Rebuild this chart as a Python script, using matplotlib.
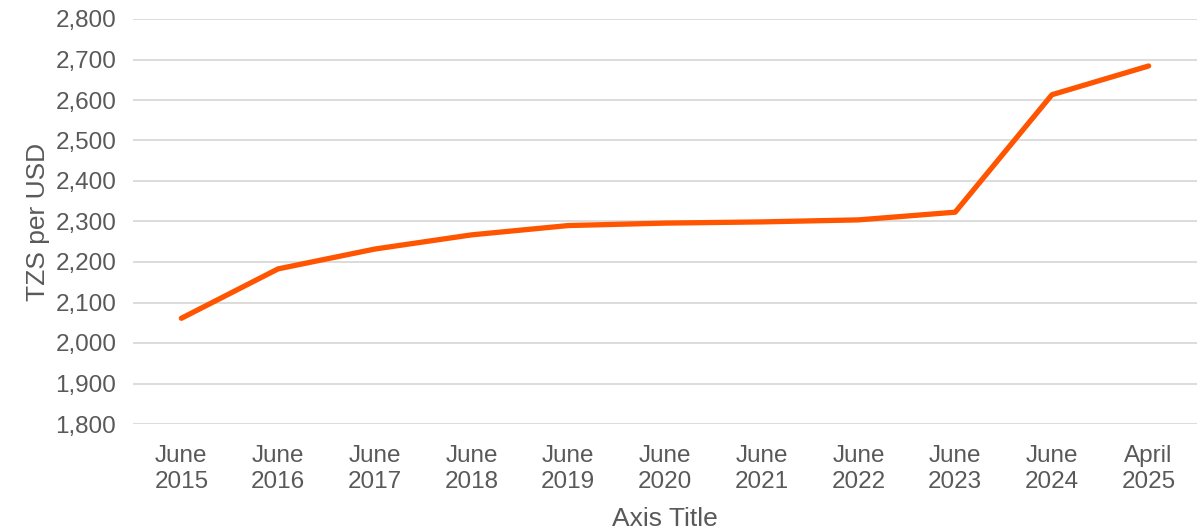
import matplotlib.pyplot as plt
from matplotlib.ticker import FuncFormatter

# ------------------------------------------------------------
# DATA (TZS per USD)
# ------------------------------------------------------------

periods = ["June\n2015", "June\n2016", "June\n2017", "June\n2018",
           "June\n2019", "June\n2020", "June\n2021", "June\n2022",
           "June\n2023", "June\n2024", "April\n2025"]

rates = [2061, 2183, 2232, 2267, 2290, 2296, 2299, 2304, 2323, 2613, 2684]

y_ticks = [1800, 1900, 2000, 2100, 2200, 2300, 2400, 2500, 2600, 2700, 2800]

TEXT = "#595959"
GRID = "#D9D9D9"
LINE = "#FF5500"

plt.rcParams['font.family'] = ['Liberation Sans', 'DejaVu Sans']

fig = plt.figure(figsize=(12.02, 5.30), dpi=100)
ax = fig.add_axes([133 / 1202, 1 - 424 / 530, 1064 / 1202, 405 / 530])

x = list(range(len(periods)))

ax.plot(x, rates, color=LINE, linewidth=3.8, solid_capstyle='round',
        solid_joinstyle='round', zorder=3)

ax.set_xlim(-0.5, len(periods) - 0.5)
ax.set_ylim(1800, 2800)

ax.set_yticks(y_ticks)
ax.yaxis.set_major_formatter(FuncFormatter(lambda v, p: f"{int(v):,}"))
ax.set_xticks(x)
ax.set_xticklabels(periods, linespacing=1.25)

ax.grid(axis='y', color=GRID, linewidth=1.3, zorder=0)
ax.set_axisbelow(True)

for s in ax.spines.values():
    s.set_visible(False)

ax.tick_params(axis='both', length=0, labelsize=17.5, labelcolor=TEXT)
ax.tick_params(axis='x', pad=15)
ax.tick_params(axis='y', pad=12)

ax.set_ylabel("TZS per USD", fontsize=19, color=TEXT, labelpad=4)
ax.set_xlabel("Axis Title", fontsize=19, color=TEXT, labelpad=10)

fig.savefig("out.png", dpi=100)
